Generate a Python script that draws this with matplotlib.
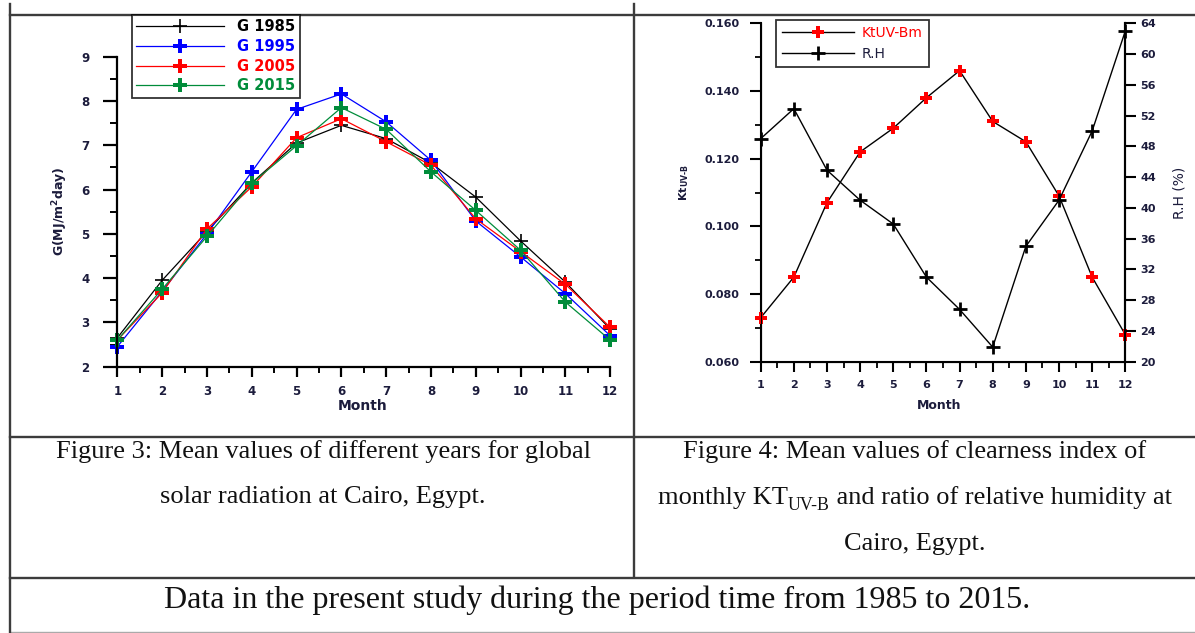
import numpy as np
import matplotlib
matplotlib.use("Agg")
import matplotlib.pyplot as plt
from matplotlib.lines import Line2D
from matplotlib.ticker import MultipleLocator, FormatStrFormatter

# ── data ────────────────────────────────────────────────────────────────
months = np.arange(1, 13)

g_1985 = [2.65, 3.95, 5.05, 6.15, 7.05, 7.45, 7.15, 6.60, 5.83, 4.84, 3.91, 2.85]
g_1995 = [2.45, 3.70, 5.00, 6.40, 7.81, 8.16, 7.53, 6.66, 5.29, 4.48, 3.65, 2.70]
g_2005 = [2.60, 3.67, 5.11, 6.06, 7.17, 7.60, 7.08, 6.55, 5.34, 4.60, 3.86, 2.89]
g_2015 = [2.60, 3.75, 4.94, 6.14, 6.99, 7.85, 7.36, 6.40, 5.53, 4.63, 3.46, 2.60]
g_labels = ["G 1985", "G 1995", "G 2005", "G 2015"]

kt_uvb = [0.073, 0.085, 0.107, 0.122, 0.129, 0.138, 0.146, 0.131, 0.125, 0.109, 0.085, 0.068]
rh = [49.0, 52.9, 44.9, 41.0, 37.9, 31.0, 26.8, 21.9, 35.0, 41.0, 50.0, 63.0]

cap3 = ["Figure 3: Mean values of different years for global",
        "solar radiation at Cairo, Egypt."]
cap4_l1 = "Figure 4: Mean values of clearness index of"
cap4_l2 = ["monthly KT", "UV-B", " and ratio of relative humidity at"]
cap4_l3 = "Cairo, Egypt."
footer = "Data in the present study during the period time from 1985 to 2015."

# ── figure ──────────────────────────────────────────────────────────────
W, H = 1195, 633
fig = plt.figure(figsize=(W / 100, H / 100), dpi=100)
TXT = "#1c1c3c"
plt.rcParams["font.family"] = "DejaVu Sans"


def px_axes(x0, y0, x1, y1):
    # pixel box (top-left origin) -> figure axes
    return fig.add_axes([x0 / W, 1 - y1 / H, (x1 - x0) / W, (y1 - y0) / H])


def hline(y, x0, x1, **kw):
    fig.add_artist(Line2D([x0 / W, x1 / W], [1 - y / H, 1 - y / H], **kw))


def vline(x, y0, y1, **kw):
    fig.add_artist(Line2D([x / W, x / W], [1 - y0 / H, 1 - y1 / H], **kw))


# table borders
border = dict(color="#3c3c3c", linewidth=1.7)
hline(14.5, 10, W, **border)
hline(436.5, 10, W, **border)
hline(577.5, 10, W, **border)
hline(631.5, 10, W, color="#aaaaaa", linewidth=1.0)
vline(10, 4, H, **border)
vline(634, 4, 577, **border)

# ── Figure 3: global radiation ──────────────────────────────────────────
ax1 = px_axes(117.3, 56.7, 610.2, 366.7)
styles = [
    dict(color="black", marker="+", ms=10, mew=1.2, lw=0.9),
    dict(color="#0000ff", marker="P", ms=10, mew=0, lw=0.9),
    dict(color="#ff0000", marker="P", ms=10, mew=0, lw=0.9),
    dict(color="#008c3a", marker="P", ms=10, mew=0, lw=0.9),
]
handles = []
for vals, lab, st in zip([g_1985, g_1995, g_2005, g_2015], g_labels, styles):
    h, = ax1.plot(months, vals, label=lab, clip_on=False, **st)
    handles.append(h)

ax1.set_xlim(1, 12)
ax1.set_ylim(2, 9)
ax1.xaxis.set_major_locator(MultipleLocator(1))
ax1.xaxis.set_minor_locator(MultipleLocator(0.5))
ax1.yaxis.set_major_locator(MultipleLocator(1))
ax1.yaxis.set_minor_locator(MultipleLocator(0.5))
for s in ["top", "right"]:
    ax1.spines[s].set_visible(False)
for s in ["left", "bottom"]:
    ax1.spines[s].set_linewidth(1.6)
ax1.tick_params(axis="y", which="major", length=10, width=1.6, pad=10)
ax1.tick_params(axis="y", which="minor", length=5, width=1.4)
ax1.tick_params(axis="x", which="major", length=7, width=1.6, pad=6)
ax1.tick_params(axis="x", which="minor", length=4, width=1.4)
for lbl in ax1.get_xticklabels() + ax1.get_yticklabels():
    lbl.set_fontweight("bold")
    lbl.set_fontsize(8.5)
    lbl.set_color(TXT)
ax1.set_xlabel("Month", fontsize=10, fontweight="bold", color=TXT)
ax1.xaxis.set_label_coords(0.497, -0.105)
ax1.set_ylabel("G(MJ/m$^{\\mathregular{2}}$day)", fontsize=9, fontweight="bold",
               color=TXT)
ax1.yaxis.set_label_coords(-0.095, 0.5)

leg1 = fig.legend(handles=handles, loc="upper left",
                  bbox_to_anchor=(132 / W, 1 - 15 / H), frameon=True,
                  fancybox=False, borderaxespad=0, handlelength=6.0,
                  prop=dict(weight="bold", size=10.5), labelspacing=0.32,
                  borderpad=0.3, handletextpad=0.9)
leg1.get_frame().set_edgecolor("black")
leg1.get_frame().set_linewidth(1.3)
for t, st in zip(leg1.get_texts(), styles):
    t.set_color(st["color"])

# ── Figure 4: KtUV-B and relative humidity ──────────────────────────────
ax2 = px_axes(760.7, 23.3, 1125.3, 361.7)
l_kt, = ax2.plot(months, kt_uvb, color="black", lw=1.0, marker="P", ms=9,
                 mew=0, mfc="#ff0000", label="KtUV-Bm", clip_on=False, zorder=3)
ax2.set_xlim(1, 12)
ax2.set_ylim(0.06, 0.16)
ax2.xaxis.set_major_locator(MultipleLocator(1))
ax2.xaxis.set_minor_locator(MultipleLocator(0.5))
ax2.yaxis.set_major_locator(MultipleLocator(0.02))
ax2.yaxis.set_minor_locator(MultipleLocator(0.01))
ax2.yaxis.set_major_formatter(FormatStrFormatter("%.3f"))
ax2.spines["top"].set_visible(False)
for s in ["left", "bottom", "right"]:
    ax2.spines[s].set_linewidth(1.5)
ax2.tick_params(axis="y", which="major", length=8, width=1.5, pad=7)
ax2.tick_params(axis="y", which="minor", length=4, width=1.3)
ax2.tick_params(axis="x", which="major", length=7, width=1.5, pad=6)
ax2.tick_params(axis="x", which="minor", length=4, width=1.3)
ax2.set_xlabel("Month", fontsize=9, fontweight="bold", color=TXT)
ax2.xaxis.set_label_coords(0.49, -0.11)
ax2.set_ylabel("Kt$_{\\mathregular{UV\u2011B}}$", fontsize=8, fontweight="bold",
               color=TXT)
ax2.yaxis.set_label_coords(-0.19, 0.53)

ax3 = ax2.twinx()
l_rh, = ax3.plot(months, rh, color="black", lw=1.0, marker="+", ms=10, mew=2.0,
                 label="R.H", clip_on=False, zorder=3)
ax3.set_ylim(20, 64)
ax3.yaxis.set_major_locator(MultipleLocator(4))
ax3.spines["top"].set_visible(False)
ax3.spines["right"].set_linewidth(1.5)
ax3.tick_params(axis="y", which="major", length=8, width=1.5, pad=3)
ax3.set_ylabel("R.H (%)", fontsize=10, color=TXT)
ax3.yaxis.set_label_coords(1.13, 0.5)

for lbl in (ax2.get_xticklabels() + ax2.get_yticklabels()
            + ax3.get_yticklabels()):
    lbl.set_fontweight("bold")
    lbl.set_fontsize(8)
    lbl.set_color(TXT)

leg2 = fig.legend(handles=[l_kt, l_rh], loc="upper left",
                  bbox_to_anchor=(776 / W, 1 - 20 / H), frameon=True,
                  fancybox=False, borderaxespad=0, handlelength=5.2,
                  prop=dict(size=10), labelspacing=0.45, borderpad=0.45,
                  handletextpad=0.5)
leg2.get_frame().set_edgecolor("black")
leg2.get_frame().set_linewidth(1.3)
leg2.get_texts()[0].set_color("#ff0000")
leg2.get_texts()[1].set_color(TXT)

# ── captions ────────────────────────────────────────────────────────────
CAP_FS = 19
serif = dict(family="Liberation Serif", fontsize=CAP_FS, color="#111111",
             ha="center", va="center")
for i, line in enumerate(cap3):
    fig.text(323 / W, 1 - (452 + 45 * i) / H, line, **serif)
fig.text(915 / W, 1 - 452 / H, cap4_l1, **serif)
fig.text(915 / W, 1 - 544 / H, cap4_l3, **serif)

# line with subscript: lay the pieces out left to right, centred as a whole
renderer = fig.canvas.get_renderer()
y2 = 1 - 498 / H
pieces = []
for k, part in enumerate(cap4_l2):
    fs = CAP_FS * 0.68 if k == 1 else CAP_FS
    t = fig.text(0, y2 - (0.012 if k == 1 else 0), part, family="Liberation Serif",
                 fontsize=fs, color="#111111", ha="left", va="center")
    pieces.append(t)
widths = [t.get_window_extent(renderer).width for t in pieces]
x = 915 - sum(widths) / 2
for t, w in zip(pieces, widths):
    t.set_x(x / W)
    x += w

fig.text(597 / W, 1 - 600 / H, footer, family="Liberation Serif",
         fontsize=23, color="#111111", ha="center", va="center")

fig.savefig("out.png", dpi=100)
